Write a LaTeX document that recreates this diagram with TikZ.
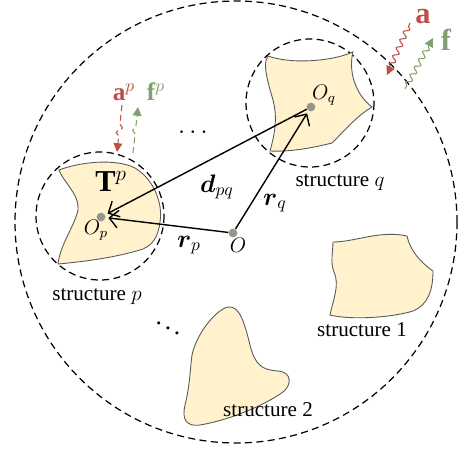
\documentclass[tikz,border=0pt]{standalone}
\usepackage{amsmath,amssymb}
\usepackage{fontspec}
\setmainfont{Liberation Serif}
\usepackage{tikz}
\usetikzlibrary{arrows.meta,decorations.pathmorphing}

\definecolor{blobfill}{RGB}{255,242,204}
\definecolor{loadred}{RGB}{190,78,74}
\definecolor{respgreen}{RGB}{128,160,108}
\definecolor{ptgray}{RGB}{150,150,138}

\begin{document}
\begin{tikzpicture}[x=0.02cm, y=-0.02cm,
  blob/.style={fill=blobfill, draw=black!65, line width=0.5pt},
  zone/.style={draw, dash pattern=on 4pt off 2.5pt, line width=0.7pt},
  pt/.style={circle, fill=ptgray, inner sep=0pt, minimum size=5pt},
  vec/.style={-{Straight Barb[length=5pt,width=10pt]}, line width=0.8pt, shorten >=1.5pt},
  wave/.style={decorate, line width=0.6pt, -{Triangle[length=5pt,width=5pt]},
               decoration={snake, amplitude=1.5pt, segment length=5pt, pre length=2pt, post length=4pt}},
  kick/.style={decorate, line width=0.6pt, dash pattern=on 3.5pt off 2pt, -{Triangle[length=5pt,width=5pt]},
               decoration={snake, amplitude=1.6pt, segment length=6pt, pre length=11pt, post length=9pt}},
  lbl/.style={font=\large},
  sym/.style={font=\Large},
]
  \useasboundingbox (0,0) rectangle (458,451);

  % Outer domain and structure zones
  \draw[zone] (236,222) circle (221);
  \draw[zone] (100,216) circle (64);
  \draw[zone] (310,103) circle (64);

  % Structures
  \draw[blob] (59,170) .. controls (80,162) and (115,158) .. (135,168)
    .. controls (155,180) and (163,205) .. (160,222)
    .. controls (158,238) and (152,245) .. (143,249)
    .. controls (115,258) and (80,262) .. (58,264)
    .. controls (60,245) and (75,225) .. (78,210)
    .. controls (80,195) and (62,180) .. (59,170) -- cycle;
  \draw[blob] (268,56) .. controls (290,64) and (330,62) .. (353,52)
    .. controls (348,72) and (356,95) .. (372,107)
    .. controls (358,115) and (345,130) .. (332,143)
    .. controls (312,148) and (290,152) .. (270,151)
    .. controls (276,130) and (277,115) .. (273,100)
    .. controls (268,82) and (262,64) .. (268,56) -- cycle;
  \draw[blob] (333,242) .. controls (355,242) and (380,230) .. (407,236)
    .. controls (410,250) and (420,262) .. (433,271)
    .. controls (433,290) and (428,305) .. (413,311)
    .. controls (390,318) and (350,320) .. (330,315)
    .. controls (333,300) and (340,285) .. (334,272)
    .. controls (330,262) and (333,252) .. (333,242) -- cycle;
  \draw[blob] (228,307) .. controls (240,305) and (245,325) .. (250,345)
    .. controls (255,365) and (262,370) .. (278,371)
    .. controls (292,372) and (292,385) .. (283,392)
    .. controls (265,405) and (230,420) .. (200,425)
    .. controls (185,427) and (182,418) .. (185,405)
    .. controls (190,385) and (190,370) .. (192,355)
    .. controls (196,335) and (215,310) .. (228,307) -- cycle;

  % Reference points
  \node[pt] (O) at (233,233) {};
  \node[pt] (Op) at (101,217) {};
  \node[pt] (Oq) at (311,107) {};

  % Position vectors
  \draw[vec] (Oq) -- (Op);
  \draw[vec] (O) -- (Op);
  \draw[vec] (O) -- (Oq);

  % Labels
  \node[lbl] (Olbl) at (238,245) {$O$};
  \node[lbl] (Oplbl) at (96,230) {$O_p$};
  \node[lbl] (Oqlbl) at (324,95) {$O_q$};
  \node[font=\LARGE] (Tp) at (111,181) {$\mathbf{T}^p$};
  \node[sym] (dpq) at (217,187) {$\boldsymbol{d}_{pq}$};
  \node[sym] (rq) at (275,203) {$\boldsymbol{r}_q$};
  \node[sym] (rp) at (189,245) {$\boldsymbol{r}_p$};
  \node[lbl] (strp) at (97,297) {structure $p$};
  \node[lbl] (strq) at (340,183) {structure $q$};
  \node[lbl] (str1) at (362,330) {structure 1};
  \node[lbl] (str2) at (268,410) {structure 2};
  \node[sym] (dots1) at (195,133) {$\cdots$};
  \node[sym] (dots2) at (168,323) {$\ddots$};

  % Loads and responses
  \coordinate (apS) at (122,105);
  \coordinate (apE) at (117,152);
  \coordinate (fpS) at (133,153);
  \coordinate (fpE) at (138,107);
  \draw[kick, loadred] (apS) -- (apE);
  \draw[kick, respgreen] (fpS) -- (fpE);
  \node[sym, text=loadred] (ap) at (124,92) {$\mathbf{a}^p$};
  \node[sym, text=respgreen] (fp) at (156,92) {$\mathbf{f}^p$};

  \coordinate (aS) at (410,23);
  \coordinate (aE) at (387,75);
  \coordinate (fS) at (405,89);
  \coordinate (fE) at (433,38);
  \draw[wave, loadred] (aS) -- (aE);
  \draw[wave, respgreen] (fS) -- (fE);
  \node[font=\LARGE, text=loadred] (a) at (423,17) {$\mathbf{a}$};
  \node[font=\LARGE, text=respgreen] (f) at (446,40) {$\mathbf{f}$};
\end{tikzpicture}
\end{document}
